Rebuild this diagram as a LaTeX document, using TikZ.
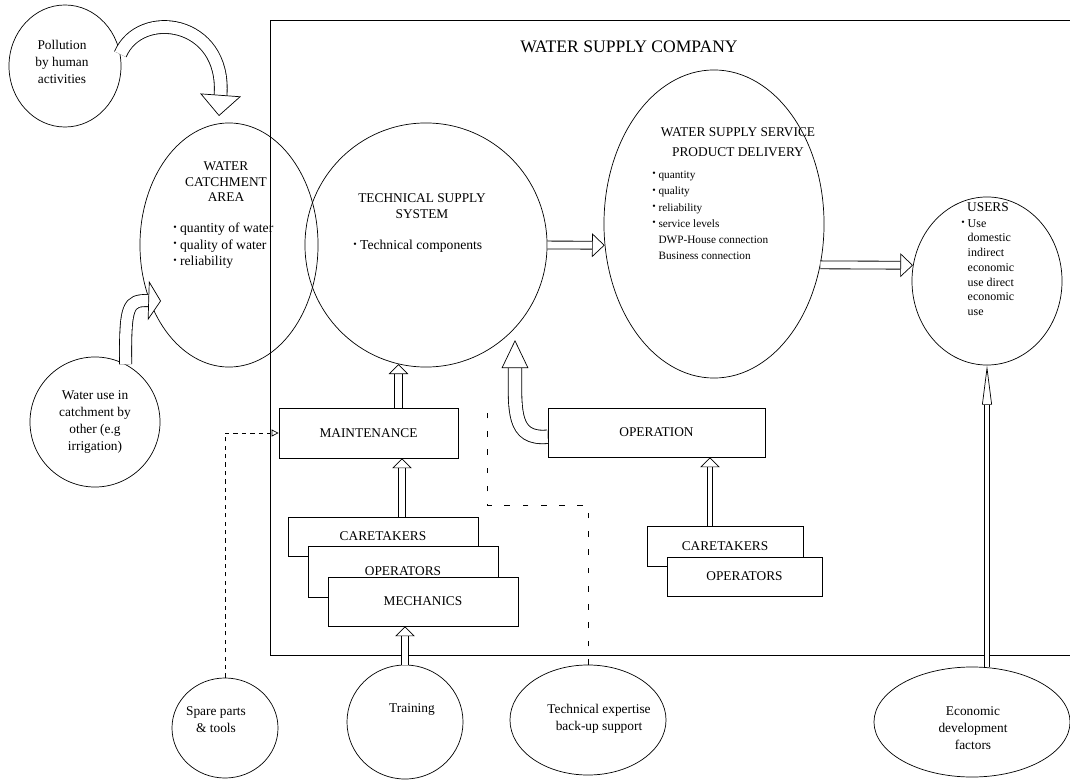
\documentclass[tikz,border=0pt]{standalone}
\usepackage{fontspec}
\setmainfont{Liberation Serif}
\usetikzlibrary{shapes.geometric,arrows.meta,positioning}
\newcommand{\bul}{\raisebox{0.35ex}{\scriptsize\textbullet}\ }

\begin{document}
\begin{tikzpicture}[x=0.025cm, y=-0.025cm]
	\tikzstyle{circ} = [draw, ellipse, line width=0.5pt, inner sep=0pt];
	\tikzstyle{box} = [draw, rectangle, line width=0.5pt, fill=white, inner sep=0pt, font={\fontsize{9.5}{11}\selectfont}];
	\tikzstyle{info} = [align=center, inner sep=0pt, font={\fontsize{9.5}{12}\selectfont}];
	\tikzstyle{list} = [align=left, anchor=north west, inner sep=0pt, font={\fontsize{9.7}{11.5}\selectfont}];
	\tikzstyle{blk} = [double, double distance=5pt, line width=0.6pt,
		-{Triangle[fill=white, line width=0.5pt, length=7pt, width=14pt]}];
	\tikzstyle{trace} = [line width=0.5pt, dashed];

	\useasboundingbox (0,0) rectangle (1070,780);

	% company frame
	\draw[line width=0.5pt] (1070,20) -| (270,655) -- (1070,655);
	\node[font={\fontsize{12.5}{14}\selectfont}] (company) at (629,47) {WATER SUPPLY COMPANY};

	% circles
	\node[circ, minimum width=2.8cm, minimum height=3.05cm] (pol) at (65,66) {};
	\node[info] (poltext) at (62,62) {Pollution\\by human\\activities};

	\node[circ, minimum width=4.45cm, minimum height=6.1cm] (catch) at (229,245) {};
	\node[info, font={\fontsize{9.5}{11}\selectfont}] (catchtitle) at (226,182) {WATER\\CATCHMENT\\AREA};
	\node[list] (catchlist) at (173,223) {\bul quantity of water\\\bul quality of water\\\bul reliability};

	\node[circ, minimum width=6.05cm, minimum height=6.1cm] (tech) at (426,245) {};
	\node[info, font={\fontsize{9.5}{11.5}\selectfont}] (techtitle) at (422,206) {TECHNICAL SUPPLY\\SYSTEM};
	\node[list] (techlist) at (353,240) {\bul Technical components};

	\node[circ, minimum width=5.5cm, minimum height=7.7cm] (serv) at (714,224) {};
	\node[info, font={\fontsize{9.5}{14}\selectfont}] (servtitle) at (738,142) {WATER SUPPLY SERVICE\\PRODUCT DELIVERY};
	\node[list, font={\fontsize{8}{11.5}\selectfont}] (servlist) at (652,171) {\bul quantity\\\bul quality\\\bul reliability\\\bul service levels\\
		\hphantom{\bul}DWP-House connection\\\hphantom{\bul}Business connection};

	\node[circ, minimum width=3.75cm, minimum height=4.2cm] (users) at (987,281) {};
	\node[info] (userstitle) at (988,207) {USERS};
	\node[list, font={\fontsize{8.5}{10.5}\selectfont}] (userslist) at (961,219) {\bul Use\\\hphantom{\bul}domestic\\
		\hphantom{\bul}indirect\\\hphantom{\bul}economic\\\hphantom{\bul}use direct\\\hphantom{\bul}economic\\\hphantom{\bul}use};

	\node[circ, minimum width=3.25cm, minimum height=3.25cm] (wuse) at (95,422) {};
	\node[info] (wusetext) at (95,422) {Water use in\\catchment by\\other (e.g\\irrigation)};

	\node[circ, minimum width=2.65cm, minimum height=2.5cm] (spare) at (225,728) {};
	\node[info] (sparetext) at (216,720) {Spare parts\\\& tools};

	\node[circ, minimum width=2.9cm, minimum height=2.85cm] (train) at (405,722) {};
	\node[info] (traintext) at (412,710) {Training};

	\node[circ, minimum width=3.9cm, minimum height=2.75cm] (texp) at (588,720) {};
	\node[info] (texptext) at (599,719) {Technical expertise\\back-up support};

	\node[circ, minimum width=4.9cm, minimum height=2.75cm] (econ) at (972,722) {};
	\node[info] (econtext) at (973,728) {Economic\\development\\factors};

	% boxes
	\node[box, minimum width=4.475cm, minimum height=1.25cm] (maint) at (368.5,433) {MAINTENANCE};
	\node[box, minimum width=5.425cm, minimum height=1.225cm] (oper) at (656.5,432.5) {OPERATION};

	\node[box, minimum width=4.75cm, minimum height=0.975cm] (care) at (383,536.5) {CARETAKERS};
	\node[box, minimum width=4.75cm, minimum height=1.275cm] (ops) at (403,571.5) {OPERATORS};
	\node[box, minimum width=4.75cm, minimum height=1.225cm] (mech) at (423,601.5) {MECHANICS};

	\node[box, minimum width=3.9cm, minimum height=1.0cm] (caretwo) at (725,546) {CARETAKERS};
	\node[box, minimum width=3.875cm, minimum height=0.975cm] (opstwo) at (744.5,576.5) {OPERATORS};

	% block arrows
	\draw[blk, double distance=8.5pt, -{Triangle[fill=white, line width=0.5pt, length=15pt, width=29pt]}]
		(pol.12) .. controls (140,8) and (226,20) .. (219,116);
	\draw[blk, double distance=8pt, -{Triangle[fill=white, line width=0.5pt, length=9pt, width=28pt]}]
		(wuse.62) .. controls (125,305) and (128,300) .. (161,301);
	\draw[blk, double distance=9pt, -{Triangle[fill=white, line width=0.5pt, length=20pt, width=19pt]}]
		([yshift=-3pt]oper.west) .. controls (512,440) and (515,410) .. (515,340);
	\draw[blk, -{Triangle[fill=white, line width=0.5pt, length=9pt, width=17pt]}] (tech.east) -- (serv.191);
	\draw[blk, -{Triangle[fill=white, line width=0.5pt, length=9pt, width=17pt]}] (serv.-21) -- (users.168);
	\draw[blk] (maint.north -| tech.257) -- (tech.257);
	\draw[blk, double distance=4pt] ([xshift=0.475cm]care.north) -- ([xshift=0.475cm]care.north |- maint.south);
	\draw[blk, double distance=4pt] (train.north) -- (train.north |- mech.south);
	\draw[blk, double distance=3pt] ([xshift=-0.375cm]caretwo.north) -- ([xshift=-0.375cm]caretwo.north |- oper.south);
	\draw[blk, double distance=3.5pt, -{Triangle[fill=white, line width=0.5pt, length=28pt, width=7pt]}]
		(users.south |- econ.north) -- (users.south);

	% dashed supply lines
	\draw[trace, -{Triangle[open, length=5pt, width=5pt]}] (spare.north) |- (maint.west);
	\coordinate (texpend) at (487,402);
	\draw[thin, dash pattern=on 4pt off 9pt] (texp.north) |- (487,505) -- (texpend);
\end{tikzpicture}
\end{document}
